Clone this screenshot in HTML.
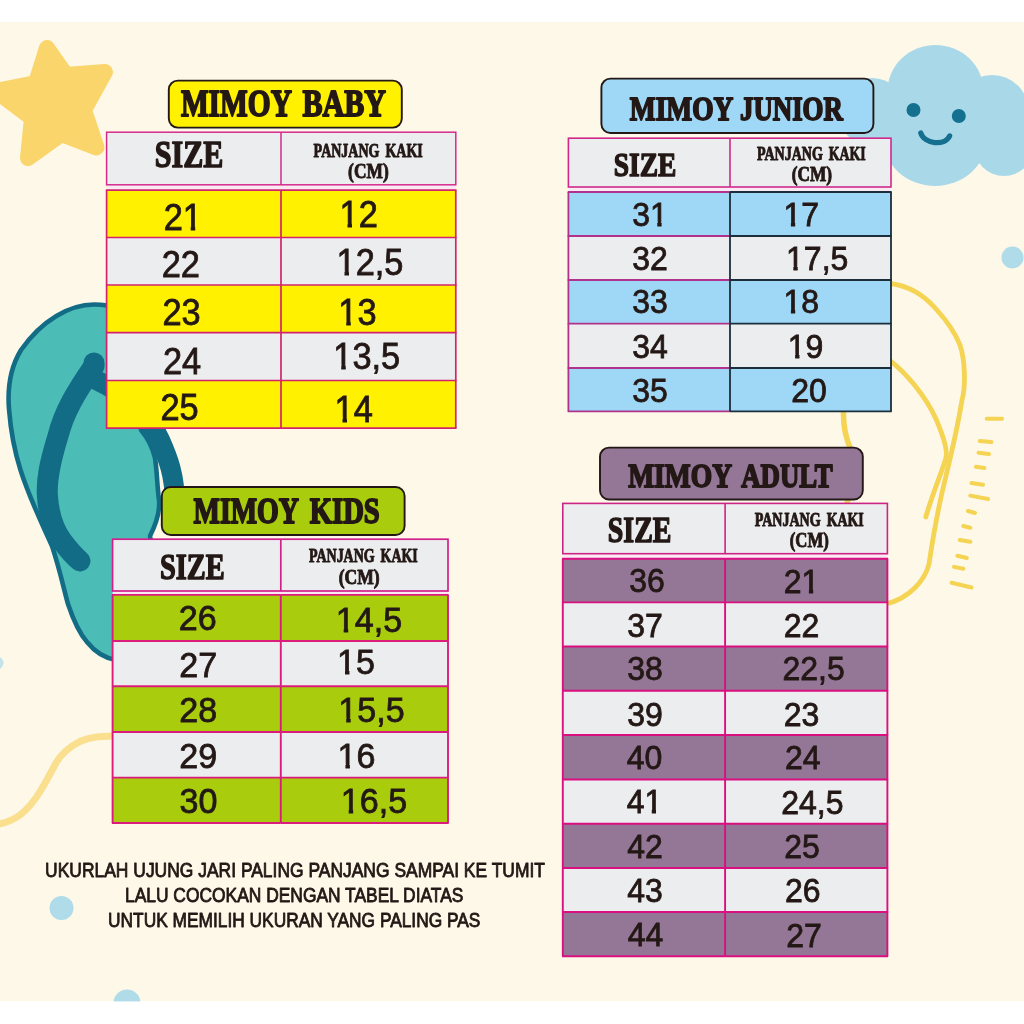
<!DOCTYPE html>
<html lang="id">
<head>
<meta charset="utf-8">
<title>Mimoy Size Chart</title>
<style>
html,body{margin:0;padding:0;background:#fff;}
body{width:1024px;height:1024px;overflow:hidden;}
svg{display:block;}
</style>
</head>
<body>
<svg width="1024" height="1024" viewBox="0 0 1024 1024">
<defs><clipPath id="c0"><rect x="159.67" y="193.5" width="46.24" height="31.81"/><rect x="163.37" y="225.31" width="19.72" height="10.8"/><rect x="190.74" y="225.31" width="4.44" height="10.8"/></clipPath><clipPath id="c1"><rect x="335.59" y="191" width="46.24" height="31.81"/><rect x="347.54" y="222.81" width="4.44" height="10.8"/><rect x="358.41" y="222.81" width="19.72" height="10.8"/></clipPath><clipPath id="c2"><rect x="332.59" y="239.25" width="74.91" height="31.81"/><rect x="344.54" y="271.06" width="4.44" height="10.8"/><rect x="355.41" y="271.06" width="19.72" height="10.8"/><rect x="374.53" y="271.06" width="10.15" height="10.8"/><rect x="384.09" y="271.06" width="19.72" height="10.8"/></clipPath><clipPath id="c3"><rect x="334.34" y="289.25" width="46.24" height="31.81"/><rect x="346.29" y="321.06" width="4.44" height="10.8"/><rect x="357.16" y="321.06" width="19.72" height="10.8"/></clipPath><clipPath id="c4"><rect x="329.34" y="333" width="74.91" height="31.81"/><rect x="341.29" y="364.81" width="4.44" height="10.8"/><rect x="352.16" y="364.81" width="19.72" height="10.8"/><rect x="371.28" y="364.81" width="10.15" height="10.8"/><rect x="380.84" y="364.81" width="19.72" height="10.8"/></clipPath><clipPath id="c5"><rect x="330.59" y="385.5" width="46.24" height="31.81"/><rect x="342.54" y="417.31" width="4.44" height="10.8"/><rect x="353.41" y="417.31" width="19.72" height="10.8"/></clipPath><clipPath id="c6"><rect x="331.87" y="596.05" width="74.36" height="31.53"/><rect x="343.74" y="627.58" width="4.41" height="10.71"/><rect x="354.53" y="627.58" width="19.56" height="10.71"/><rect x="373.49" y="627.58" width="10.07" height="10.71"/><rect x="382.97" y="627.58" width="19.56" height="10.71"/></clipPath><clipPath id="c7"><rect x="333.12" y="638.55" width="45.92" height="31.53"/><rect x="344.99" y="670.08" width="4.41" height="10.71"/><rect x="355.78" y="670.08" width="19.56" height="10.71"/></clipPath><clipPath id="c8"><rect x="334.37" y="686.05" width="74.36" height="31.53"/><rect x="346.24" y="717.58" width="4.41" height="10.71"/><rect x="357.03" y="717.58" width="19.56" height="10.71"/><rect x="375.99" y="717.58" width="10.07" height="10.71"/><rect x="385.47" y="717.58" width="19.56" height="10.71"/></clipPath><clipPath id="c9"><rect x="333.62" y="732.3" width="45.92" height="31.53"/><rect x="345.49" y="763.83" width="4.41" height="10.71"/><rect x="356.28" y="763.83" width="19.56" height="10.71"/></clipPath><clipPath id="c10"><rect x="336.87" y="777.3" width="74.36" height="31.53"/><rect x="348.74" y="808.83" width="4.41" height="10.71"/><rect x="359.53" y="808.83" width="19.56" height="10.71"/><rect x="378.49" y="808.83" width="10.07" height="10.71"/><rect x="387.97" y="808.83" width="19.56" height="10.71"/></clipPath><clipPath id="c11"><rect x="628.18" y="192.5" width="43.59" height="29.5"/><rect x="631.88" y="222" width="18.39" height="10.05"/><rect x="657.32" y="222" width="4.23" height="10.05"/></clipPath><clipPath id="c12"><rect x="779.57" y="192.5" width="43.59" height="29.5"/><rect x="790.92" y="222" width="4.23" height="10.05"/><rect x="801.07" y="222" width="18.39" height="10.05"/></clipPath><clipPath id="c13"><rect x="782.07" y="236.25" width="70.27" height="29.5"/><rect x="793.42" y="265.75" width="4.23" height="10.05"/><rect x="803.57" y="265.75" width="18.39" height="10.05"/><rect x="821.36" y="265.75" width="9.49" height="10.05"/><rect x="830.25" y="265.75" width="18.39" height="10.05"/></clipPath><clipPath id="c14"><rect x="779.57" y="279.75" width="43.59" height="29.5"/><rect x="790.92" y="309.25" width="4.23" height="10.05"/><rect x="801.07" y="309.25" width="18.39" height="10.05"/></clipPath><clipPath id="c15"><rect x="783.82" y="324.25" width="43.59" height="29.5"/><rect x="795.17" y="353.75" width="4.23" height="10.05"/><rect x="805.32" y="353.75" width="18.39" height="10.05"/></clipPath><clipPath id="c16"><rect x="622.67" y="779.5" width="43.59" height="29.5"/><rect x="626.37" y="809" width="18.39" height="10.05"/><rect x="651.8" y="809" width="4.23" height="10.05"/></clipPath><clipPath id="c17"><rect x="779.79" y="559.75" width="43.59" height="29.5"/><rect x="783.49" y="589.25" width="18.39" height="10.05"/><rect x="808.93" y="589.25" width="4.23" height="10.05"/></clipPath></defs>
<rect x="0" y="0" width="1024" height="1024" fill="#FFFFFF"/>
<rect x="0" y="22" width="1024" height="979.5" fill="#FDF8E8"/>
<!-- star -->
<path d="M47,48 L66,75 L105,72 L84,110 L96.5,147.5 L61.5,134 L28,158 L32,118 L-4,91 L36,83 Z" fill="#FAD56B" stroke="#FAD56B" stroke-width="16" stroke-linejoin="round"/>
<!-- small dots -->
<circle cx="1012.5" cy="257.5" r="11" fill="#B0DBE9"/>
<circle cx="61.5" cy="908" r="12" fill="#B0DBE9"/>
<circle cx="127" cy="1003" r="13.5" fill="#B0DBE9"/>
<circle cx="-3" cy="663" r="6.5" fill="#C4E2EA"/>
<!-- wave -->
<path d="M114,736 C96,736 86,738 78,742.5 C66,749 60,756 56,763 C50,774 46,782 41,790 C35,800 28,809 20,815 C13,820 6,823 -3,824.5" fill="none" stroke="#FADF8F" stroke-width="7" stroke-linecap="round"/>
<!-- flip flop -->
<g>
<path d="M94,304.5 C70,304.5 42,320 21,350 C10,368 7.5,390 9,409 C10.5,428 12.5,445 20.5,470 C30,500 45,530 52,546 C60,570 64,590 68,604 C74,622 80,634 87,642 C95,652 104,658 116,660 L160,600 L150,536 C158,520 160,510 159,500 C157,485 157,470 155,458 C152,445 146,436 141,430 L141,320 C130,310 112,304.5 94,304.5 Z" fill="#4CBCB7" stroke="#126C86" stroke-width="4.6" stroke-linejoin="round"/>
<path d="M94,366 C76,392 64,412 58,436 C50,462 46,480 47.5,497 C49,517 54,530 62,541 C68,549 74,556 80,561" fill="none" stroke="#126C86" stroke-width="21" stroke-linecap="round" stroke-linejoin="round"/>
<path d="M96,380 C122,392 148,412 160,440 C168,458 175,475 175,505" fill="none" stroke="#126C86" stroke-width="20" stroke-linecap="round"/>
<circle cx="94" cy="363" r="10.5" fill="#126C86"/>
</g>
<!-- cloud -->
<g fill="#A9D9E9">
<ellipse cx="935.5" cy="91" rx="48" ry="46"/>
<circle cx="872" cy="112" r="34"/>
<circle cx="992" cy="112" r="37"/>
<ellipse cx="935" cy="138" rx="52" ry="48"/>
<circle cx="1004" cy="146" r="30"/>
<rect x="872" y="100" width="152" height="46"/>
</g>
<circle cx="913.5" cy="110" r="7" fill="#14708E"/>
<circle cx="958.8" cy="116" r="7" fill="#14708E"/>
<path d="M920.8,133 C924,144 945,146.5 949.6,136" fill="none" stroke="#14708E" stroke-width="5.3" stroke-linecap="round"/>
<!-- sandal outline -->
<g fill="none" stroke="#F5D353" stroke-width="4.8" stroke-linecap="round" stroke-linejoin="round">
<path d="M890,283.3 C910,286 925,296 936,309 C947,321 956,335 960,345 C965,360 966,385 962,400 C958,425 953,447 945.7,477 C940,500 936,517 929,564 C925,580 910,598 886,604"/>
<path d="M890,360.6 C905,372 925,395 936,419 C945,440 948,452 945.7,458.6 C942,472 934,489 925.8,517"/>
<path d="M843.5,410 C843,425 845,437 851,450 C856,465 853,485 848,500 C843,515 838,535 833,556" stroke-width="5.5"/>
<path d="M986.7,418.7 L1002,418.7 M979.7,441 L991.4,442 M978.5,452.7 L989,454 M976,466.8 L984.4,468 M971.5,483 L983,484.8 M970.3,495.6 L988,499 M968,511 L975,513 M963.3,526 L970.3,527.7 M959.8,540 L970.3,541.8 M957.4,555.8 L966.8,558 M954,566.9 L963.3,568.7 M951.6,582.8 L971.5,587.5" stroke-width="4"/>
</g>

<rect x="0" y="1001.4" width="1024" height="23" fill="#FFFFFF"/>
<rect x="0" y="0" width="1024" height="22" fill="#FFFFFF"/>
<rect x="168.8" y="80.6" width="233" height="47" rx="9" ry="9" fill="#FFF100" stroke="#231815" stroke-width="1.9"/>
<text x="180.9" y="116.4" font-family="'Liberation Serif', serif" font-size="37.5" font-weight="bold" fill="#231815" stroke="#231815" stroke-width="1.8" stroke-linejoin="round" textLength="110.96" lengthAdjust="spacingAndGlyphs">MIMOY</text>
<text x="302.4" y="116.4" font-family="'Liberation Serif', serif" font-size="37.5" font-weight="bold" fill="#231815" stroke="#231815" stroke-width="1.8" stroke-linejoin="round" textLength="83.57" lengthAdjust="spacingAndGlyphs">BABY</text>
<rect x="106.6" y="184.8" width="349.2" height="5.4" fill="#FBEAF4"/>
<rect x="106.6" y="132.2" width="349.2" height="52.6" fill="#ECEDEF" stroke="#D42A8C" stroke-width="1.5"/>
<line x1="281" y1="132.2" x2="281" y2="184.8" stroke="#D42A8C" stroke-width="1.5"/>
<rect x="106.6" y="190.2" width="349.2" height="47.3" fill="#FFF100"/>
<rect x="106.6" y="237.5" width="349.2" height="47.5" fill="#ECEDEF"/>
<rect x="106.6" y="285" width="349.2" height="47.7" fill="#FFF100"/>
<rect x="106.6" y="332.7" width="349.2" height="47.8" fill="#ECEDEF"/>
<rect x="106.6" y="380.5" width="349.2" height="47.7" fill="#FFF100"/>
<line x1="105.9" y1="190.2" x2="281" y2="190.2" stroke="#D2246C" stroke-width="1.7"/>
<line x1="281" y1="190.2" x2="456.5" y2="190.2" stroke="#D2246C" stroke-width="1.7"/>
<line x1="105.9" y1="237.5" x2="281" y2="237.5" stroke="#D2246C" stroke-width="1.7"/>
<line x1="281" y1="237.5" x2="456.5" y2="237.5" stroke="#D2246C" stroke-width="1.7"/>
<line x1="105.9" y1="285" x2="281" y2="285" stroke="#D2246C" stroke-width="1.7"/>
<line x1="281" y1="285" x2="456.5" y2="285" stroke="#D2246C" stroke-width="1.7"/>
<line x1="105.9" y1="332.7" x2="281" y2="332.7" stroke="#D2246C" stroke-width="1.7"/>
<line x1="281" y1="332.7" x2="456.5" y2="332.7" stroke="#D2246C" stroke-width="1.7"/>
<line x1="105.9" y1="380.5" x2="281" y2="380.5" stroke="#D2246C" stroke-width="1.7"/>
<line x1="281" y1="380.5" x2="456.5" y2="380.5" stroke="#D2246C" stroke-width="1.7"/>
<line x1="105.9" y1="428.2" x2="281" y2="428.2" stroke="#D2246C" stroke-width="1.7"/>
<line x1="281" y1="428.2" x2="456.5" y2="428.2" stroke="#D2246C" stroke-width="1.7"/>
<line x1="106.6" y1="190.2" x2="106.6" y2="428.2" stroke="#D2246C" stroke-width="1.7"/>
<line x1="281" y1="190.2" x2="281" y2="428.2" stroke="#D2246C" stroke-width="1.7"/>
<line x1="455.8" y1="190.2" x2="455.8" y2="428.2" stroke="#D2246C" stroke-width="1.7"/>
<text x="154.75" y="167.4" font-family="'Liberation Serif', serif" font-size="37.9" font-weight="bold" fill="#231815" stroke="#231815" stroke-width="1.5" stroke-linejoin="round" textLength="68.54" lengthAdjust="spacingAndGlyphs">SIZE</text>
<text x="313.61" y="156.5" font-family="'Liberation Serif', serif" font-size="17.8" font-weight="bold" fill="#231815" stroke="#231815" stroke-width="0.9" stroke-linejoin="round" textLength="65.91" lengthAdjust="spacingAndGlyphs">PANJANG</text>
<text x="385.46" y="156.5" font-family="'Liberation Serif', serif" font-size="17.8" font-weight="bold" fill="#231815" stroke="#231815" stroke-width="0.9" stroke-linejoin="round" textLength="37.31" lengthAdjust="spacingAndGlyphs">KAKI</text>
<text x="348.08" y="177.6" font-family="'Liberation Serif', serif" font-size="20.5" font-weight="bold" fill="#231815" stroke="#231815" stroke-width="0.9" stroke-linejoin="round" textLength="40.63" lengthAdjust="spacingAndGlyphs">(CM)</text>
<text x="163.67" y="229.5" font-family="'Liberation Sans', sans-serif" font-size="36" fill="#231815" stroke="#231815" stroke-width="0.8" textLength="38.24" lengthAdjust="spacingAndGlyphs" clip-path="url(#c0)">21</text>
<text x="161.67" y="277" font-family="'Liberation Sans', sans-serif" font-size="36" fill="#231815" stroke="#231815" stroke-width="0.8" textLength="38.24" lengthAdjust="spacingAndGlyphs">22</text>
<text x="162.42" y="325.25" font-family="'Liberation Sans', sans-serif" font-size="36" fill="#231815" stroke="#231815" stroke-width="0.8" textLength="38.24" lengthAdjust="spacingAndGlyphs">23</text>
<text x="162.92" y="374" font-family="'Liberation Sans', sans-serif" font-size="36" fill="#231815" stroke="#231815" stroke-width="0.8" textLength="38.24" lengthAdjust="spacingAndGlyphs">24</text>
<text x="160.42" y="420.25" font-family="'Liberation Sans', sans-serif" font-size="36" fill="#231815" stroke="#231815" stroke-width="0.8" textLength="38.24" lengthAdjust="spacingAndGlyphs">25</text>
<text x="339.59" y="227" font-family="'Liberation Sans', sans-serif" font-size="36" fill="#231815" stroke="#231815" stroke-width="0.8" textLength="38.24" lengthAdjust="spacingAndGlyphs" clip-path="url(#c1)">12</text>
<text x="336.59" y="275.25" font-family="'Liberation Sans', sans-serif" font-size="36" fill="#231815" stroke="#231815" stroke-width="0.8" textLength="66.91" lengthAdjust="spacingAndGlyphs" clip-path="url(#c2)">12,5</text>
<text x="338.34" y="325.25" font-family="'Liberation Sans', sans-serif" font-size="36" fill="#231815" stroke="#231815" stroke-width="0.8" textLength="38.24" lengthAdjust="spacingAndGlyphs" clip-path="url(#c3)">13</text>
<text x="333.34" y="369" font-family="'Liberation Sans', sans-serif" font-size="36" fill="#231815" stroke="#231815" stroke-width="0.8" textLength="66.91" lengthAdjust="spacingAndGlyphs" clip-path="url(#c4)">13,5</text>
<text x="334.59" y="421.5" font-family="'Liberation Sans', sans-serif" font-size="36" fill="#231815" stroke="#231815" stroke-width="0.8" textLength="38.24" lengthAdjust="spacingAndGlyphs" clip-path="url(#c5)">14</text>
<rect x="161.8" y="487" width="242.8" height="48" rx="9" ry="9" fill="#A9CD0D" stroke="#231815" stroke-width="1.9"/>
<text x="193.52" y="522.8" font-family="'Liberation Serif', serif" font-size="35.4" font-weight="bold" fill="#231815" stroke="#231815" stroke-width="1.8" stroke-linejoin="round" textLength="105.51" lengthAdjust="spacingAndGlyphs">MIMOY</text>
<text x="309.81" y="522.8" font-family="'Liberation Serif', serif" font-size="35.4" font-weight="bold" fill="#231815" stroke="#231815" stroke-width="1.8" stroke-linejoin="round" textLength="69.9" lengthAdjust="spacingAndGlyphs">KIDS</text>
<rect x="112.6" y="591" width="335.4" height="3.9" fill="#FBEAF4"/>
<rect x="112.6" y="539.2" width="335.4" height="51.8" fill="#ECEDEF" stroke="#D2208A" stroke-width="1.7"/>
<line x1="280.8" y1="539.2" x2="280.8" y2="591" stroke="#D2208A" stroke-width="1.7"/>
<rect x="112.6" y="594.9" width="335.4" height="46.1" fill="#A9CD0D"/>
<rect x="112.6" y="641" width="335.4" height="45.3" fill="#ECEDEF"/>
<rect x="112.6" y="686.3" width="335.4" height="45.7" fill="#A9CD0D"/>
<rect x="112.6" y="732" width="335.4" height="45.6" fill="#ECEDEF"/>
<rect x="112.6" y="777.6" width="335.4" height="45.4" fill="#A9CD0D"/>
<line x1="111.9" y1="594.9" x2="280.8" y2="594.9" stroke="#DC1C7C" stroke-width="1.9"/>
<line x1="280.8" y1="594.9" x2="448.7" y2="594.9" stroke="#DC1C7C" stroke-width="1.9"/>
<line x1="111.9" y1="641" x2="280.8" y2="641" stroke="#DC1C7C" stroke-width="1.9"/>
<line x1="280.8" y1="641" x2="448.7" y2="641" stroke="#DC1C7C" stroke-width="1.9"/>
<line x1="111.9" y1="686.3" x2="280.8" y2="686.3" stroke="#DC1C7C" stroke-width="1.9"/>
<line x1="280.8" y1="686.3" x2="448.7" y2="686.3" stroke="#DC1C7C" stroke-width="1.9"/>
<line x1="111.9" y1="732" x2="280.8" y2="732" stroke="#DC1C7C" stroke-width="1.9"/>
<line x1="280.8" y1="732" x2="448.7" y2="732" stroke="#DC1C7C" stroke-width="1.9"/>
<line x1="111.9" y1="777.6" x2="280.8" y2="777.6" stroke="#DC1C7C" stroke-width="1.9"/>
<line x1="280.8" y1="777.6" x2="448.7" y2="777.6" stroke="#DC1C7C" stroke-width="1.9"/>
<line x1="111.9" y1="823" x2="280.8" y2="823" stroke="#DC1C7C" stroke-width="1.9"/>
<line x1="280.8" y1="823" x2="448.7" y2="823" stroke="#DC1C7C" stroke-width="1.9"/>
<line x1="112.6" y1="594.9" x2="112.6" y2="823" stroke="#DC1C7C" stroke-width="1.9"/>
<line x1="280.8" y1="594.9" x2="280.8" y2="823" stroke="#DC1C7C" stroke-width="1.9"/>
<line x1="448" y1="594.9" x2="448" y2="823" stroke="#DC1C7C" stroke-width="1.9"/>
<text x="159.99" y="578.8" font-family="'Liberation Serif', serif" font-size="35.9" font-weight="bold" fill="#231815" stroke="#231815" stroke-width="1.5" stroke-linejoin="round" textLength="64.72" lengthAdjust="spacingAndGlyphs">SIZE</text>
<text x="308.96" y="562.4" font-family="'Liberation Serif', serif" font-size="17.8" font-weight="bold" fill="#231815" stroke="#231815" stroke-width="0.9" stroke-linejoin="round" textLength="65.71" lengthAdjust="spacingAndGlyphs">PANJANG</text>
<text x="380.61" y="562.4" font-family="'Liberation Serif', serif" font-size="17.8" font-weight="bold" fill="#231815" stroke="#231815" stroke-width="0.9" stroke-linejoin="round" textLength="37.16" lengthAdjust="spacingAndGlyphs">KAKI</text>
<text x="338.68" y="583.6" font-family="'Liberation Serif', serif" font-size="20.5" font-weight="bold" fill="#231815" stroke="#231815" stroke-width="0.9" stroke-linejoin="round" textLength="41.05" lengthAdjust="spacingAndGlyphs">(CM)</text>
<text x="178.69" y="630" font-family="'Liberation Sans', sans-serif" font-size="35.7" fill="#231815" stroke="#231815" stroke-width="0.8" textLength="37.92" lengthAdjust="spacingAndGlyphs">26</text>
<text x="179.19" y="676.75" font-family="'Liberation Sans', sans-serif" font-size="35.7" fill="#231815" stroke="#231815" stroke-width="0.8" textLength="37.92" lengthAdjust="spacingAndGlyphs">27</text>
<text x="179.19" y="721.75" font-family="'Liberation Sans', sans-serif" font-size="35.7" fill="#231815" stroke="#231815" stroke-width="0.8" textLength="37.92" lengthAdjust="spacingAndGlyphs">28</text>
<text x="179.19" y="768" font-family="'Liberation Sans', sans-serif" font-size="35.7" fill="#231815" stroke="#231815" stroke-width="0.8" textLength="37.92" lengthAdjust="spacingAndGlyphs">29</text>
<text x="179.6" y="813" font-family="'Liberation Sans', sans-serif" font-size="35.7" fill="#231815" stroke="#231815" stroke-width="0.8" textLength="37.92" lengthAdjust="spacingAndGlyphs">30</text>
<text x="335.87" y="631.75" font-family="'Liberation Sans', sans-serif" font-size="35.7" fill="#231815" stroke="#231815" stroke-width="0.8" textLength="66.36" lengthAdjust="spacingAndGlyphs" clip-path="url(#c6)">14,5</text>
<text x="337.12" y="674.25" font-family="'Liberation Sans', sans-serif" font-size="35.7" fill="#231815" stroke="#231815" stroke-width="0.8" textLength="37.92" lengthAdjust="spacingAndGlyphs" clip-path="url(#c7)">15</text>
<text x="338.37" y="721.75" font-family="'Liberation Sans', sans-serif" font-size="35.7" fill="#231815" stroke="#231815" stroke-width="0.8" textLength="66.36" lengthAdjust="spacingAndGlyphs" clip-path="url(#c8)">15,5</text>
<text x="337.62" y="768" font-family="'Liberation Sans', sans-serif" font-size="35.7" fill="#231815" stroke="#231815" stroke-width="0.8" textLength="37.92" lengthAdjust="spacingAndGlyphs" clip-path="url(#c9)">16</text>
<text x="340.87" y="813" font-family="'Liberation Sans', sans-serif" font-size="35.7" fill="#231815" stroke="#231815" stroke-width="0.8" textLength="66.36" lengthAdjust="spacingAndGlyphs" clip-path="url(#c10)">16,5</text>
<rect x="601.4" y="78.6" width="272" height="54.4" rx="9" ry="9" fill="#9ED8F6" stroke="#231815" stroke-width="1.9"/>
<text x="629.83" y="119.7" font-family="'Liberation Serif', serif" font-size="33" font-weight="bold" fill="#231815" stroke="#231815" stroke-width="1.8" stroke-linejoin="round" textLength="103.54" lengthAdjust="spacingAndGlyphs">MIMOY</text>
<text x="739.96" y="119.7" font-family="'Liberation Serif', serif" font-size="33" font-weight="bold" fill="#231815" stroke="#231815" stroke-width="1.8" stroke-linejoin="round" textLength="102.91" lengthAdjust="spacingAndGlyphs">JUNIOR</text>
<rect x="568.4" y="187" width="322.6" height="5" fill="#FBEAF4"/>
<rect x="568.4" y="138.2" width="322.6" height="48.8" fill="#ECEDEF" stroke="#D0288A" stroke-width="1.6"/>
<line x1="730" y1="138.2" x2="730" y2="187" stroke="#D0288A" stroke-width="1.6"/>
<rect x="568.4" y="192" width="322.6" height="44" fill="#9ED8F6"/>
<rect x="568.4" y="236" width="322.6" height="44" fill="#ECEDEF"/>
<rect x="568.4" y="280" width="322.6" height="43.7" fill="#9ED8F6"/>
<rect x="568.4" y="323.7" width="322.6" height="44.3" fill="#ECEDEF"/>
<rect x="568.4" y="368" width="322.6" height="43.4" fill="#9ED8F6"/>
<line x1="567.7" y1="192" x2="730" y2="192" stroke="#B0328A" stroke-width="1.8"/>
<line x1="730" y1="192" x2="891.7" y2="192" stroke="#1B2E3A" stroke-width="1.8"/>
<line x1="567.7" y1="236" x2="730" y2="236" stroke="#B0328A" stroke-width="1.8"/>
<line x1="730" y1="236" x2="891.7" y2="236" stroke="#1B2E3A" stroke-width="1.8"/>
<line x1="567.7" y1="280" x2="730" y2="280" stroke="#B0328A" stroke-width="1.8"/>
<line x1="730" y1="280" x2="891.7" y2="280" stroke="#1B2E3A" stroke-width="1.8"/>
<line x1="567.7" y1="323.7" x2="730" y2="323.7" stroke="#B0328A" stroke-width="1.8"/>
<line x1="730" y1="323.7" x2="891.7" y2="323.7" stroke="#1B2E3A" stroke-width="1.8"/>
<line x1="567.7" y1="368" x2="730" y2="368" stroke="#B0328A" stroke-width="1.8"/>
<line x1="730" y1="368" x2="891.7" y2="368" stroke="#1B2E3A" stroke-width="1.8"/>
<line x1="567.7" y1="411.4" x2="730" y2="411.4" stroke="#B0328A" stroke-width="1.8"/>
<line x1="730" y1="411.4" x2="891.7" y2="411.4" stroke="#1B2E3A" stroke-width="1.8"/>
<line x1="568.4" y1="192" x2="568.4" y2="411.4" stroke="#B0328A" stroke-width="1.8"/>
<line x1="730" y1="192" x2="730" y2="411.4" stroke="#1B2E3A" stroke-width="1.8"/>
<line x1="891" y1="192" x2="891" y2="411.4" stroke="#1B2E3A" stroke-width="1.8"/>
<text x="613.69" y="175.6" font-family="'Liberation Serif', serif" font-size="34.5" font-weight="bold" fill="#231815" stroke="#231815" stroke-width="1.5" stroke-linejoin="round" textLength="62.57" lengthAdjust="spacingAndGlyphs">SIZE</text>
<text x="756.96" y="159.6" font-family="'Liberation Serif', serif" font-size="17.8" font-weight="bold" fill="#231815" stroke="#231815" stroke-width="0.9" stroke-linejoin="round" textLength="65.96" lengthAdjust="spacingAndGlyphs">PANJANG</text>
<text x="828.81" y="159.6" font-family="'Liberation Serif', serif" font-size="17.8" font-weight="bold" fill="#231815" stroke="#231815" stroke-width="0.9" stroke-linejoin="round" textLength="36.95" lengthAdjust="spacingAndGlyphs">KAKI</text>
<text x="791.69" y="180.6" font-family="'Liberation Serif', serif" font-size="20.5" font-weight="bold" fill="#231815" stroke="#231815" stroke-width="0.9" stroke-linejoin="round" textLength="40.37" lengthAdjust="spacingAndGlyphs">(CM)</text>
<text x="632.18" y="226" font-family="'Liberation Sans', sans-serif" font-size="33.5" fill="#231815" stroke="#231815" stroke-width="0.8" textLength="35.59" lengthAdjust="spacingAndGlyphs" clip-path="url(#c11)">31</text>
<text x="632.18" y="269.75" font-family="'Liberation Sans', sans-serif" font-size="33.5" fill="#231815" stroke="#231815" stroke-width="0.8" textLength="35.59" lengthAdjust="spacingAndGlyphs">32</text>
<text x="632.18" y="313.25" font-family="'Liberation Sans', sans-serif" font-size="33.5" fill="#231815" stroke="#231815" stroke-width="0.8" textLength="35.59" lengthAdjust="spacingAndGlyphs">33</text>
<text x="632.18" y="357.75" font-family="'Liberation Sans', sans-serif" font-size="33.5" fill="#231815" stroke="#231815" stroke-width="0.8" textLength="35.59" lengthAdjust="spacingAndGlyphs">34</text>
<text x="632.18" y="401.5" font-family="'Liberation Sans', sans-serif" font-size="33.5" fill="#231815" stroke="#231815" stroke-width="0.8" textLength="35.59" lengthAdjust="spacingAndGlyphs">35</text>
<text x="783.57" y="226" font-family="'Liberation Sans', sans-serif" font-size="33.5" fill="#231815" stroke="#231815" stroke-width="0.8" textLength="35.59" lengthAdjust="spacingAndGlyphs" clip-path="url(#c12)">17</text>
<text x="786.07" y="269.75" font-family="'Liberation Sans', sans-serif" font-size="33.5" fill="#231815" stroke="#231815" stroke-width="0.8" textLength="62.27" lengthAdjust="spacingAndGlyphs" clip-path="url(#c13)">17,5</text>
<text x="783.57" y="313.25" font-family="'Liberation Sans', sans-serif" font-size="33.5" fill="#231815" stroke="#231815" stroke-width="0.8" textLength="35.59" lengthAdjust="spacingAndGlyphs" clip-path="url(#c14)">18</text>
<text x="787.82" y="357.75" font-family="'Liberation Sans', sans-serif" font-size="33.5" fill="#231815" stroke="#231815" stroke-width="0.8" textLength="35.59" lengthAdjust="spacingAndGlyphs" clip-path="url(#c15)">19</text>
<text x="791.29" y="401.5" font-family="'Liberation Sans', sans-serif" font-size="33.5" fill="#231815" stroke="#231815" stroke-width="0.8" textLength="35.59" lengthAdjust="spacingAndGlyphs">20</text>
<rect x="600" y="447.6" width="262.8" height="51.9" rx="9" ry="9" fill="#947696" stroke="#231815" stroke-width="1.9"/>
<text x="628.18" y="486.7" font-family="'Liberation Serif', serif" font-size="33.7" font-weight="bold" fill="#231815" stroke="#231815" stroke-width="1.8" stroke-linejoin="round" textLength="103.84" lengthAdjust="spacingAndGlyphs">MIMOY</text>
<text x="741.25" y="486.7" font-family="'Liberation Serif', serif" font-size="33.7" font-weight="bold" fill="#231815" stroke="#231815" stroke-width="1.8" stroke-linejoin="round" textLength="91.25" lengthAdjust="spacingAndGlyphs">ADULT</text>
<rect x="562.8" y="553.7" width="324.6" height="5" fill="#FBEAF4"/>
<rect x="562.8" y="503.4" width="324.6" height="50.3" fill="#ECEDEF" stroke="#CC2484" stroke-width="1.6"/>
<line x1="725.1" y1="503.4" x2="725.1" y2="553.7" stroke="#CC2484" stroke-width="1.6"/>
<rect x="562.8" y="558.7" width="324.6" height="43.7" fill="#947696"/>
<rect x="562.8" y="602.4" width="324.6" height="44.1" fill="#ECEDEF"/>
<rect x="562.8" y="646.5" width="324.6" height="44.25" fill="#947696"/>
<rect x="562.8" y="690.75" width="324.6" height="44.25" fill="#ECEDEF"/>
<rect x="562.8" y="735" width="324.6" height="44.5" fill="#947696"/>
<rect x="562.8" y="779.5" width="324.6" height="44.25" fill="#ECEDEF"/>
<rect x="562.8" y="823.75" width="324.6" height="44.25" fill="#947696"/>
<rect x="562.8" y="868" width="324.6" height="44" fill="#ECEDEF"/>
<rect x="562.8" y="912" width="324.6" height="44.25" fill="#947696"/>
<line x1="562.1" y1="558.7" x2="725.1" y2="558.7" stroke="#DA0F80" stroke-width="1.9"/>
<line x1="725.1" y1="558.7" x2="888.1" y2="558.7" stroke="#DA0F80" stroke-width="1.9"/>
<line x1="562.1" y1="602.4" x2="725.1" y2="602.4" stroke="#DA0F80" stroke-width="1.9"/>
<line x1="725.1" y1="602.4" x2="888.1" y2="602.4" stroke="#DA0F80" stroke-width="1.9"/>
<line x1="562.1" y1="646.5" x2="725.1" y2="646.5" stroke="#DA0F80" stroke-width="1.9"/>
<line x1="725.1" y1="646.5" x2="888.1" y2="646.5" stroke="#DA0F80" stroke-width="1.9"/>
<line x1="562.1" y1="690.75" x2="725.1" y2="690.75" stroke="#DA0F80" stroke-width="1.9"/>
<line x1="725.1" y1="690.75" x2="888.1" y2="690.75" stroke="#DA0F80" stroke-width="1.9"/>
<line x1="562.1" y1="735" x2="725.1" y2="735" stroke="#DA0F80" stroke-width="1.9"/>
<line x1="725.1" y1="735" x2="888.1" y2="735" stroke="#DA0F80" stroke-width="1.9"/>
<line x1="562.1" y1="779.5" x2="725.1" y2="779.5" stroke="#DA0F80" stroke-width="1.9"/>
<line x1="725.1" y1="779.5" x2="888.1" y2="779.5" stroke="#DA0F80" stroke-width="1.9"/>
<line x1="562.1" y1="823.75" x2="725.1" y2="823.75" stroke="#DA0F80" stroke-width="1.9"/>
<line x1="725.1" y1="823.75" x2="888.1" y2="823.75" stroke="#DA0F80" stroke-width="1.9"/>
<line x1="562.1" y1="868" x2="725.1" y2="868" stroke="#DA0F80" stroke-width="1.9"/>
<line x1="725.1" y1="868" x2="888.1" y2="868" stroke="#DA0F80" stroke-width="1.9"/>
<line x1="562.1" y1="912" x2="725.1" y2="912" stroke="#DA0F80" stroke-width="1.9"/>
<line x1="725.1" y1="912" x2="888.1" y2="912" stroke="#DA0F80" stroke-width="1.9"/>
<line x1="562.1" y1="956.25" x2="725.1" y2="956.25" stroke="#DA0F80" stroke-width="1.9"/>
<line x1="725.1" y1="956.25" x2="888.1" y2="956.25" stroke="#DA0F80" stroke-width="1.9"/>
<line x1="562.8" y1="558.7" x2="562.8" y2="956.25" stroke="#DA0F80" stroke-width="1.9"/>
<line x1="725.1" y1="558.7" x2="725.1" y2="956.25" stroke="#DA0F80" stroke-width="1.9"/>
<line x1="887.4" y1="558.7" x2="887.4" y2="956.25" stroke="#DA0F80" stroke-width="1.9"/>
<text x="607.76" y="541.8" font-family="'Liberation Serif', serif" font-size="35" font-weight="bold" fill="#231815" stroke="#231815" stroke-width="1.5" stroke-linejoin="round" textLength="63.67" lengthAdjust="spacingAndGlyphs">SIZE</text>
<text x="754.71" y="525.9" font-family="'Liberation Serif', serif" font-size="17.8" font-weight="bold" fill="#231815" stroke="#231815" stroke-width="0.9" stroke-linejoin="round" textLength="65.96" lengthAdjust="spacingAndGlyphs">PANJANG</text>
<text x="826.81" y="525.9" font-family="'Liberation Serif', serif" font-size="17.8" font-weight="bold" fill="#231815" stroke="#231815" stroke-width="0.9" stroke-linejoin="round" textLength="36.95" lengthAdjust="spacingAndGlyphs">KAKI</text>
<text x="789.71" y="547.1" font-family="'Liberation Serif', serif" font-size="20.5" font-weight="bold" fill="#231815" stroke="#231815" stroke-width="0.9" stroke-linejoin="round" textLength="39.07" lengthAdjust="spacingAndGlyphs">(CM)</text>
<text x="629.18" y="592" font-family="'Liberation Sans', sans-serif" font-size="33.5" fill="#231815" stroke="#231815" stroke-width="0.8" textLength="35.59" lengthAdjust="spacingAndGlyphs">36</text>
<text x="627.18" y="637" font-family="'Liberation Sans', sans-serif" font-size="33.5" fill="#231815" stroke="#231815" stroke-width="0.8" textLength="35.59" lengthAdjust="spacingAndGlyphs">37</text>
<text x="627.18" y="680.25" font-family="'Liberation Sans', sans-serif" font-size="33.5" fill="#231815" stroke="#231815" stroke-width="0.8" textLength="35.59" lengthAdjust="spacingAndGlyphs">38</text>
<text x="627.18" y="725.75" font-family="'Liberation Sans', sans-serif" font-size="33.5" fill="#231815" stroke="#231815" stroke-width="0.8" textLength="35.59" lengthAdjust="spacingAndGlyphs">39</text>
<text x="626.67" y="768.5" font-family="'Liberation Sans', sans-serif" font-size="33.5" fill="#231815" stroke="#231815" stroke-width="0.8" textLength="35.59" lengthAdjust="spacingAndGlyphs">40</text>
<text x="626.67" y="813" font-family="'Liberation Sans', sans-serif" font-size="33.5" fill="#231815" stroke="#231815" stroke-width="0.8" textLength="35.59" lengthAdjust="spacingAndGlyphs" clip-path="url(#c16)">41</text>
<text x="627.17" y="857.5" font-family="'Liberation Sans', sans-serif" font-size="33.5" fill="#231815" stroke="#231815" stroke-width="0.8" textLength="35.59" lengthAdjust="spacingAndGlyphs">42</text>
<text x="627.17" y="901.75" font-family="'Liberation Sans', sans-serif" font-size="33.5" fill="#231815" stroke="#231815" stroke-width="0.8" textLength="35.59" lengthAdjust="spacingAndGlyphs">43</text>
<text x="627.67" y="945.5" font-family="'Liberation Sans', sans-serif" font-size="33.5" fill="#231815" stroke="#231815" stroke-width="0.8" textLength="35.59" lengthAdjust="spacingAndGlyphs">44</text>
<text x="783.79" y="593.25" font-family="'Liberation Sans', sans-serif" font-size="33.5" fill="#231815" stroke="#231815" stroke-width="0.8" textLength="35.59" lengthAdjust="spacingAndGlyphs" clip-path="url(#c17)">21</text>
<text x="783.79" y="637" font-family="'Liberation Sans', sans-serif" font-size="33.5" fill="#231815" stroke="#231815" stroke-width="0.8" textLength="35.59" lengthAdjust="spacingAndGlyphs">22</text>
<text x="782.54" y="679.5" font-family="'Liberation Sans', sans-serif" font-size="33.5" fill="#231815" stroke="#231815" stroke-width="0.8" textLength="62.27" lengthAdjust="spacingAndGlyphs">22,5</text>
<text x="783.79" y="725.75" font-family="'Liberation Sans', sans-serif" font-size="33.5" fill="#231815" stroke="#231815" stroke-width="0.8" textLength="35.59" lengthAdjust="spacingAndGlyphs">23</text>
<text x="785.04" y="768.5" font-family="'Liberation Sans', sans-serif" font-size="33.5" fill="#231815" stroke="#231815" stroke-width="0.8" textLength="35.59" lengthAdjust="spacingAndGlyphs">24</text>
<text x="781.29" y="813.5" font-family="'Liberation Sans', sans-serif" font-size="33.5" fill="#231815" stroke="#231815" stroke-width="0.8" textLength="62.27" lengthAdjust="spacingAndGlyphs">24,5</text>
<text x="784.29" y="858" font-family="'Liberation Sans', sans-serif" font-size="33.5" fill="#231815" stroke="#231815" stroke-width="0.8" textLength="35.59" lengthAdjust="spacingAndGlyphs">25</text>
<text x="785.04" y="901.75" font-family="'Liberation Sans', sans-serif" font-size="33.5" fill="#231815" stroke="#231815" stroke-width="0.8" textLength="35.59" lengthAdjust="spacingAndGlyphs">26</text>
<text x="786.29" y="946.75" font-family="'Liberation Sans', sans-serif" font-size="33.5" fill="#231815" stroke="#231815" stroke-width="0.8" textLength="35.59" lengthAdjust="spacingAndGlyphs">27</text>
<text x="45.09" y="876.7" font-family="'Liberation Sans', sans-serif" font-size="20.6" font-weight="normal" fill="#231815" stroke="#231815" stroke-width="0.85" stroke-linejoin="round" textLength="499.88" lengthAdjust="spacingAndGlyphs">UKURLAH UJUNG JARI PALING PANJANG SAMPAI KE TUMIT</text>
<text x="125.02" y="902" font-family="'Liberation Sans', sans-serif" font-size="20.6" font-weight="normal" fill="#231815" stroke="#231815" stroke-width="0.85" stroke-linejoin="round" textLength="338.34" lengthAdjust="spacingAndGlyphs">LALU COCOKAN DENGAN TABEL DIATAS</text>
<text x="108.1" y="927" font-family="'Liberation Sans', sans-serif" font-size="20.6" font-weight="normal" fill="#231815" stroke="#231815" stroke-width="0.85" stroke-linejoin="round" textLength="372.26" lengthAdjust="spacingAndGlyphs">UNTUK MEMILIH UKURAN YANG PALING PAS</text>
</svg>
</body>
</html>
